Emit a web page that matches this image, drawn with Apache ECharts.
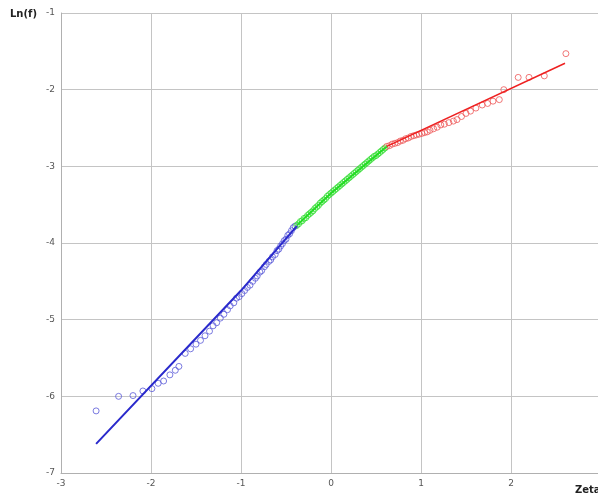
<!DOCTYPE html>
<html><head><meta charset="utf-8">
<script src="https://cdn.jsdelivr.net/npm/echarts@6/dist/echarts.min.js"></script>
<style>html,body{margin:0;padding:0;background:#fff}#c{width:598px;height:497px}</style>
</head><body><div id="c"></div>
<script>
const xTicks = [-3, -2, -1, 0, 1, 2, 3];
const yTicks = [-7, -6, -5, -4, -3, -2, -1];

const bluePoints = [
[-2.61,-6.19],[-2.36,-6.00],[-2.20,-5.99],[-2.09,-5.93],[-1.99,-5.90],[-1.92,-5.83],[-1.86,-5.80],
[-1.79,-5.72],[-1.73,-5.66],[-1.69,-5.61],[-1.62,-5.44],[-1.56,-5.38],[-1.50,-5.32],[-1.45,-5.27],
[-1.40,-5.21],[-1.35,-5.15],[-1.31,-5.08],[-1.27,-5.04],[-1.23,-4.98],[-1.19,-4.93],[-1.15,-4.87],
[-1.12,-4.82],[-1.08,-4.78],[-1.05,-4.72],[-1.02,-4.70],[-0.99,-4.66],[-0.96,-4.62],[-0.93,-4.58],
[-0.90,-4.55],[-0.87,-4.50],[-0.84,-4.46],[-0.82,-4.43],[-0.79,-4.38],[-0.77,-4.36],[-0.74,-4.31],
[-0.72,-4.28],[-0.69,-4.24],[-0.67,-4.22],[-0.65,-4.18],[-0.62,-4.15],[-0.60,-4.10],[-0.58,-4.08],
[-0.56,-4.04],[-0.54,-4.01],[-0.52,-3.97],[-0.50,-3.95],[-0.48,-3.90],[-0.46,-3.88],[-0.44,-3.84],
[-0.42,-3.80],[-0.40,-3.78]
];
const blueLine = [[-2.61,-6.62],[-1.0,-4.62],[-0.38,-3.78]];

const greenPoints = [
[-0.38,-3.77],[-0.36,-3.75],[-0.34,-3.72],[-0.32,-3.71],[-0.30,-3.68],[-0.28,-3.67],[-0.26,-3.64],
[-0.24,-3.62],[-0.22,-3.60],[-0.20,-3.58],[-0.18,-3.55],[-0.16,-3.53],[-0.14,-3.51],[-0.12,-3.48],
[-0.10,-3.46],[-0.08,-3.44],[-0.06,-3.42],[-0.04,-3.39],[-0.02,-3.37],[0.00,-3.35],[0.02,-3.33],
[0.04,-3.31],[0.06,-3.29],[0.08,-3.27],[0.10,-3.25],[0.12,-3.23],[0.14,-3.21],[0.16,-3.19],
[0.18,-3.17],[0.20,-3.15],[0.22,-3.13],[0.24,-3.11],[0.26,-3.09],[0.28,-3.07],[0.30,-3.05],
[0.32,-3.03],[0.34,-3.01],[0.36,-2.99],[0.38,-2.97],[0.40,-2.95],[0.42,-2.93],[0.44,-2.91],
[0.46,-2.89],[0.48,-2.87],[0.50,-2.86],[0.52,-2.84],[0.54,-2.82],[0.56,-2.80],[0.58,-2.78],[0.60,-2.76]
];
const greenLine = [[-0.38,-3.77],[0.0,-3.35],[0.62,-2.74]];

const redPoints = [
[0.62,-2.74],[0.65,-2.73],[0.68,-2.71],[0.71,-2.70],[0.74,-2.69],[0.77,-2.67],[0.80,-2.66],
[0.83,-2.64],[0.86,-2.63],[0.89,-2.61],[0.92,-2.60],[0.95,-2.59],[0.98,-2.58],[1.01,-2.57],
[1.04,-2.56],[1.07,-2.55],[1.10,-2.53],[1.14,-2.51],[1.18,-2.49],[1.22,-2.46],[1.26,-2.45],
[1.31,-2.43],[1.36,-2.41],[1.40,-2.39],[1.45,-2.35],[1.50,-2.31],[1.55,-2.28],[1.61,-2.24],
[1.68,-2.20],[1.74,-2.18],[1.80,-2.15],[1.87,-2.13],[1.92,-2.00],[2.08,-1.84],[2.20,-1.84],
[2.37,-1.82],[2.61,-1.53]
];
const redLine = [[0.62,-2.74],[2.60,-1.655]];

const chart = echarts.init(document.getElementById('c'), null, {renderer:'canvas'});
const font = 'DejaVu Sans';
const sym = (data, color) => ({type:'scatter', data, symbol:'circle', symbolSize:6,
  itemStyle:{color:'rgba(255,255,255,0)', borderColor:color, borderWidth:1}, z:3});
const ln = (data, color, w) => ({type:'line', data, symbol:'none', smooth:false,
  lineStyle:{color, width:w}, z:4});
chart.setOption({
  animation:false,
  backgroundColor:'#fff',
  grid:{left:61, top:13, width:540, bottom:24, containLabel:false, outerBoundsMode:'none'},
  xAxis:{type:'value', min:xTicks[0], max:xTicks[xTicks.length-1], interval:1,
    axisLine:{show:true, onZero:false, lineStyle:{color:'#b0b0b0'}},
    axisTick:{show:false},
    axisLabel:{fontFamily:font, fontSize:9, color:'#555', margin:6},
    splitLine:{show:true, lineStyle:{color:'#c4c4c4', width:1}}},
  yAxis:{type:'value', min:yTicks[0], max:yTicks[yTicks.length-1], interval:1,
    axisLine:{show:true, onZero:false, lineStyle:{color:'#b0b0b0'}},
    axisTick:{show:false},
    axisLabel:{fontFamily:font, fontSize:9, color:'#555', margin:6},
    splitLine:{show:true, lineStyle:{color:'#c4c4c4', width:1}}},
  graphic:[
    {type:'text', left:10, top:9, style:{text:'Ln(f)', font:'bold 10px "DejaVu Sans"', fill:'#222'}},
    {type:'text', left:575, top:485, style:{text:'Zeta', font:'bold 10px "DejaVu Sans"', fill:'#222'}}
  ],
  series:[
    sym(bluePoints,'#5a5ad8'),
    sym(greenPoints,'#33dd33'),
    sym(redPoints,'#ee5555'),
    ln(blueLine,'#2a2acc',2),
    ln(greenLine,'#22dd22',2),
    ln(redLine,'#ee2020',1.5)
  ]
});
</script></body></html>
